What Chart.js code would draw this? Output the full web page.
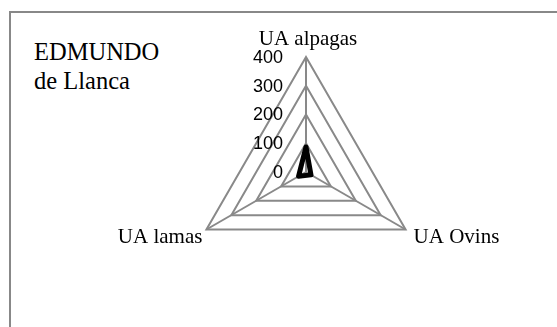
<!DOCTYPE html>
<html>
<head>
<meta charset="utf-8">
<script src="https://cdn.jsdelivr.net/npm/chart.js@4"></script>
<style>
	html, body { margin: 0; padding: 0; background: #fff; overflow: hidden; }
	#wrap { position: relative; width: 557px; height: 327px; }
	#frame {
		position: absolute; left: 9px; top: 11px; width: 600px; height: 400px;
		border-left: 2px solid #888; border-top: 2px solid #888;
	}
	#title {
		position: absolute; left: 34px; top: 37px;
		font: 24.5px "Liberation Serif", "Times New Roman", serif; line-height: 29px; color: #000;
	}
	canvas { position: absolute; left: 0; top: 0; }
</style>
</head>
<body>
<div id="wrap">
	<div id="frame"></div>
	<div id="title">EDMUNDO<br>de Llanca</div>
	<canvas id="chart" width="557" height="327"></canvas>
</div>
<script>
'use strict';

const
	categories = ['UA alpagas', 'UA Ovins', 'UA lamas'],
	seriesValues = [87, 20, 30],
	tickValues = [0, 100, 200, 300, 400];

const
	gridColor = '#898989',
	serif = '"Liberation Serif", "Times New Roman", serif',
	sans = '"Liberation Sans", Arial, sans-serif';

/**
 * Tick labels sit right-aligned left of the vertical axis, category labels around the triangle
 */
const labelsPlugin = {
	id: 'radarLabels',
	afterDraw(chart) {
		const
			scale = chart.scales.r,
			ctx = chart.ctx;

		ctx.save();
		ctx.fillStyle = '#000';

		ctx.font = '18px ' + sans;
		ctx.textAlign = 'right';
		ctx.textBaseline = 'middle';
		tickValues.forEach((v) => {
			ctx.fillText(String(v), scale.xCenter - 23, scale.yCenter - scale.getDistanceFromCenterForValue(v) + 1);
		});

		ctx.font = '21px ' + serif;
		ctx.textBaseline = 'alphabetic';
		categories.forEach((label, i) => {
			const p = scale.getPointPosition(i, scale.drawingArea);
			if (i === 0) {
				ctx.textAlign = 'center';
				ctx.fillText(label, p.x + 2, p.y - 12);
			} else if (i === 1) {
				ctx.textAlign = 'left';
				ctx.fillText(label, p.x + 8, p.y + 13);
			} else {
				ctx.textAlign = 'right';
				ctx.fillText(label, p.x - 4, p.y + 13);
			}
		});
		ctx.restore();
	}
};

new Chart(document.getElementById('chart'), {
	type: 'radar',
	data: {
		labels: categories,
		datasets: [{
			data: seriesValues,
			fill: false,
			borderColor: '#000',
			borderWidth: 5,
			borderJoinStyle: 'round',
			pointRadius: 0
		}]
	},
	options: {
		responsive: false,
		animation: false,
		layout: {padding: {top: 57, bottom: 40, left: 191, right: 136}},
		plugins: {legend: {display: false}, tooltip: {enabled: false}},
		scales: {
			r: {
				min: 0,
				max: 400,
				ticks: {stepSize: 100, display: false},
				grid: {color: gridColor, lineWidth: 2},
				angleLines: {color: gridColor, lineWidth: 2},
				pointLabels: {display: false}
			}
		}
	},
	plugins: [labelsPlugin]
});
</script>
</body>
</html>
